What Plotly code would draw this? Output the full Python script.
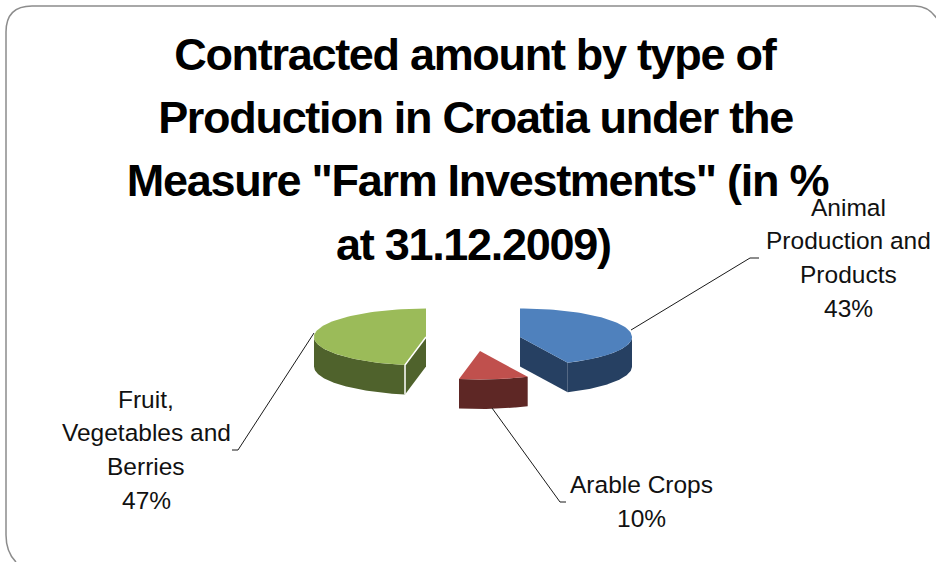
import math
import plotly.graph_objects as go

categories = ["Animal Production and Products", "Arable Crops", "Fruit, Vegetables and Berries"]
values = [43, 10, 47]
top_colors = ["#4F81BD", "#C0504D", "#9BBB59"]
side_colors = ["#264062", "#5E2725", "#4F622C"]
title_lines = ["Contracted amount by type of", "Production in Croatia under the",
               "Measure \"Farm Investments\" (in %", "at 31.12.2009)"]
label_lines = [["Animal", "Production and", "Products", "43%"],
               ["Arable Crops", "10%"],
               ["Fruit,", "Vegetables and", "Berries", "47%"]]

# projection of the exploded 3-D pie in page pixels
apex = [(520, 337), (480, 351), (426, 337)]
RX, RY, DEPTH = 112, 28.5, 29.5
W, H = 936, 562


def pt(c, deg, dz=0):
    a = math.radians(deg)
    return c[0] + RX * math.sin(a), c[1] - RY * math.cos(a) + dz


def arc(c, a0, a1, dz=0, n=80):
    return [pt(c, a0 + (a1 - a0) * i / n, dz) for i in range(n + 1)]


def poly(fig, pts, color, name):
    fig.add_trace(go.Scatter(x=[p[0] for p in pts] + [pts[0][0]],
                             y=[p[1] for p in pts] + [pts[0][1]],
                             mode="lines", fill="toself", fillcolor=color,
                             line=dict(width=0, color=color), name=name,
                             hoverinfo="skip", showlegend=False))


fig = go.Figure()
start = 0
angles = []
for v in values:
    end = start + v / sum(values) * 360
    angles.append((start, end))
    start = end

for i in range(len(values)):
    a0, a1 = angles[i]
    c = apex[i]
    name = categories[i]
    lo, hi = max(a0, 90), min(a1, 270)
    # radial wall visible on the cut nearest the viewer
    if i == 0:
        e = pt(c, a1)
        poly(fig, [c, e, (e[0], e[1] + DEPTH), (c[0], c[1] + DEPTH)], side_colors[i], name)
    if i == 2:
        e = pt(c, a0)
        poly(fig, [c, e, (e[0], e[1] + DEPTH), (c[0], c[1] + DEPTH)], side_colors[i], name)
    # outer curved wall
    poly(fig, arc(c, lo, hi) + arc(c, hi, lo, DEPTH), side_colors[i], name)
    # top face
    poly(fig, [c] + arc(c, a0, a1), top_colors[i], name)
    if i == 2:
        e = pt(c, a0)
        fig.add_trace(go.Scatter(x=[c[0], e[0], e[0]], y=[c[1], e[1], e[1] + DEPTH], mode="lines",
                                 line=dict(color="#FFFFFF", width=1.5), hoverinfo="skip", showlegend=False))

# leader lines
leaders = [[(631, 330), (750, 258), (759, 258)],
           [(492, 408), (560, 502), (566, 502)],
           [(314, 333), (238, 450), (232, 450)]]
for l in leaders:
    fig.add_trace(go.Scatter(x=[p[0] for p in l], y=[p[1] for p in l], mode="lines",
                             line=dict(color="#1a1a1a", width=1), hoverinfo="skip", showlegend=False))

annotations = []
for text, x, y in zip(title_lines, [475, 475, 477, 473], [54, 117, 180, 244]):
    annotations.append(dict(x=x, y=y, text=f"<b>{text}</b>", showarrow=False, xanchor="center", yanchor="middle",
                            font=dict(family="Liberation Sans", size=45, color="#000000")))
label_pos = [(848, [207, 240, 274, 308]), (641, [484, 518]), (146, [399, 432, 466, 500])]
for lines, (x, ys) in zip(label_lines, label_pos):
    for text, y in zip(lines, ys):
        annotations.append(dict(x=x, y=y, text=text, showarrow=False, xanchor="center", yanchor="middle",
                                font=dict(family="Liberation Sans", size=24.5, color="#111111")))

frame = (f"M 6 32 Q 6 6 32 6 L 915 6 Q 929 6 {W+2} 20 "
         f"M 6 32 L 6 535 Q 6 552 16 {H}")
fig.update_layout(
    width=W, height=H, margin=dict(l=0, r=0, t=0, b=0), autosize=False,
    paper_bgcolor="#FFFFFF", plot_bgcolor="#FFFFFF", showlegend=False,
    xaxis=dict(range=[0, W], visible=False, fixedrange=True),
    yaxis=dict(range=[H, 0], visible=False, fixedrange=True),
    annotations=annotations,
    shapes=[dict(type="path", path=frame, line=dict(color="#8C8C8C", width=1.5), layer="below")],
)

post = """
document.body.style.margin = '0';
document.body.style.overflow = 'hidden';
document.querySelectorAll('.annotation-text').forEach(function(t){
  var s = parseFloat(t.style.fontSize);
  t.style.letterSpacing = s > 30 ? '-1.3px' : '0px';
});
"""
fig.write_html("out.html", post_script=post, config={"displayModeBar": False})
